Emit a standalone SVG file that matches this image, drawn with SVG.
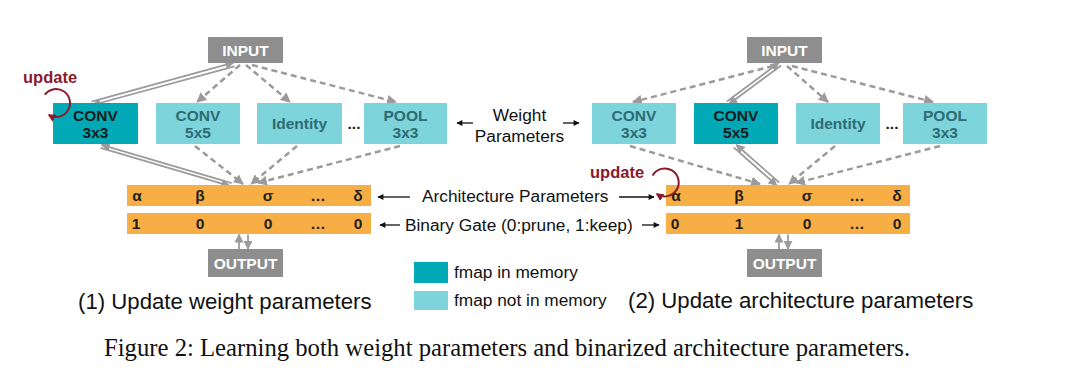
<svg xmlns="http://www.w3.org/2000/svg" width="1080" height="386" viewBox="0 0 1080 386">
<defs>
<style>
.gbox{fill:#8E8E8E}
.dark{fill:#00A9B5}
.light{fill:#7DD4DA}
.bar{fill:#F7AE44}
.t{font-family:"Liberation Sans",Arial,sans-serif}
.wb{font-weight:bold;font-size:15.5px;fill:#FFFFFF;text-anchor:middle}
.db{font-weight:bold;font-size:15.5px;fill:#1A1A1A;text-anchor:middle}
.lb{font-weight:bold;font-size:15.5px;fill:#2E6B74;text-anchor:middle}
.bt{font-weight:bold;font-size:15.5px;fill:#1E1E1E;text-anchor:middle}
.lab{font-size:17.3px;fill:#111}
.cap{font-size:22.2px;fill:#111}
.upd{font-weight:bold;font-size:16.5px;fill:#8B1A2C}
.dash{stroke:#9B9B9B;stroke-width:2.5;fill:none;stroke-dasharray:6 4;marker-end:url(#ah)}
.dbl{stroke:#9B9B9B;stroke-width:1.8;fill:none;marker-end:url(#ah2)}
.blk{stroke:#111;stroke-width:1.3;fill:none;marker-end:url(#ahb)}
.loop{stroke:#8B1A2C;stroke-width:2;fill:none;marker-end:url(#ahr)}
</style>
<marker id="ah" viewBox="0 0 10 10" refX="9" refY="5" markerUnits="userSpaceOnUse" markerWidth="10" markerHeight="10" orient="auto"><path d="M0,0 L10,5 L0,10 z" fill="#9B9B9B"/></marker>
<marker id="ah2" viewBox="0 0 10 10" refX="9" refY="5" markerUnits="userSpaceOnUse" markerWidth="9" markerHeight="9" orient="auto"><path d="M0,0 L10,5 L0,10 z" fill="#9B9B9B"/></marker>
<marker id="ahb" viewBox="0 0 10 10" refX="9" refY="5" markerUnits="userSpaceOnUse" markerWidth="7" markerHeight="6" orient="auto"><path d="M0,0 L10,5 L0,10 z" fill="#111"/></marker>
<marker id="ahr" viewBox="0 0 10 10" refX="8" refY="5" markerUnits="userSpaceOnUse" markerWidth="8" markerHeight="8" orient="auto"><path d="M0,0 L10,5 L0,10 z" fill="#8B1A2C"/></marker>
</defs>
<rect width="1080" height="386" fill="#FFFFFF"/>

<g id="connectors">
<!-- left panel -->
<line class="dbl" x1="91.5" y1="101.7" x2="233.5" y2="62.7"/>
<line class="dbl" x1="234.5" y1="66.3" x2="92.5" y2="105"/>
<line class="dash" x1="240" y1="65" x2="197" y2="102"/>
<line class="dash" x1="246" y1="65" x2="290" y2="102"/>
<line class="dash" x1="252" y1="65" x2="396" y2="102"/>
<line class="dbl" x1="231.6" y1="183.2" x2="101.6" y2="144.8"/>
<line class="dbl" x1="100.5" y1="147.8" x2="229.5" y2="185.8"/>
<line class="dash" x1="195" y1="146" x2="243" y2="184"/>
<line class="dash" x1="297" y1="146" x2="251" y2="184"/>
<line class="dash" x1="400" y1="146" x2="258" y2="183"/>
<line class="dbl" x1="239" y1="249" x2="239" y2="234.5"/>
<line class="dbl" x1="248" y1="234.5" x2="248" y2="249"/>
<!-- right panel -->
<line class="dbl" x1="726.9" y1="101.5" x2="778.9" y2="62.8"/>
<line class="dbl" x1="781.1" y1="65.5" x2="729.1" y2="104"/>
<line class="dash" x1="773" y1="66" x2="633" y2="102"/>
<line class="dash" x1="787" y1="66" x2="828" y2="102"/>
<line class="dash" x1="792" y1="66" x2="933" y2="102"/>
<line class="dbl" x1="779.3" y1="182.6" x2="736.3" y2="144.8"/>
<line class="dbl" x1="733.7" y1="147.4" x2="776.7" y2="185.4"/>
<line class="dash" x1="630" y1="146" x2="760" y2="184"/>
<line class="dash" x1="835" y1="146" x2="789" y2="184"/>
<line class="dash" x1="940" y1="146" x2="796" y2="183"/>
<line class="dbl" x1="779" y1="249" x2="779" y2="234.5"/>
<line class="dbl" x1="788" y1="234.5" x2="788" y2="249"/>
<!-- middle label arrows -->
<line class="blk" x1="473" y1="123" x2="457" y2="123"/>
<line class="blk" x1="563" y1="123" x2="579" y2="123"/>
<line class="blk" x1="410" y1="197" x2="378" y2="197"/>
<line class="blk" x1="619" y1="197" x2="654" y2="197"/>
<line class="blk" x1="400" y1="225" x2="380" y2="225"/>
<line class="blk" x1="642" y1="225" x2="659" y2="225"/>
</g>

<g id="left-input"><rect class="gbox" x="208" y="37" width="75" height="26"/><text class="t wb" x="245.5" y="55.5">INPUT</text></g>
<g id="left-conv3x3"><rect class="dark" x="53" y="103" width="85" height="41"/><text class="t db" x="95.5" y="121">CONV</text><text class="t db" x="95.5" y="138">3x3</text></g>
<g id="left-conv5x5"><rect class="light" x="156" y="103" width="84" height="41"/><text class="t lb" x="198" y="121">CONV</text><text class="t lb" x="198" y="138">5x5</text></g>
<g id="left-identity"><rect class="light" x="257" y="103" width="85" height="41"/><text class="t lb" x="299.5" y="129">Identity</text></g>
<g id="left-dots"><text class="t db" x="354" y="129">...</text></g>
<g id="left-pool"><rect class="light" x="364" y="103" width="83" height="41"/><text class="t lb" x="405.5" y="121">POOL</text><text class="t lb" x="405.5" y="138">3x3</text></g>
<g id="left-arch"><rect class="bar" x="127" y="185" width="244" height="21"/>
<text class="t bt" x="137" y="201">α</text><text class="t bt" x="200" y="201">β</text><text class="t bt" x="268" y="201">σ</text><text class="t bt" x="318" y="201">…</text><text class="t bt" x="358" y="201">δ</text></g>
<g id="left-gate"><rect class="bar" x="127" y="213" width="244" height="21"/>
<text class="t bt" x="136" y="229">1</text><text class="t bt" x="200" y="229">0</text><text class="t bt" x="268" y="229">0</text><text class="t bt" x="318" y="229">…</text><text class="t bt" x="358" y="229">0</text></g>
<g id="left-output"><rect class="gbox" x="208" y="249" width="75" height="28"/><text class="t wb" x="245.5" y="268.5">OUTPUT</text></g>
<g id="left-update"><text class="t upd" x="23" y="83">update</text><path class="loop" d="M 44.8 94.6 A 14 14 0 1 1 49 115.1"/></g>

<g id="right-input"><rect class="gbox" x="747" y="37" width="75" height="26"/><text class="t wb" x="784.5" y="55.5">INPUT</text></g>
<g id="right-conv3x3"><rect class="light" x="592" y="103" width="84" height="41"/><text class="t lb" x="634" y="121">CONV</text><text class="t lb" x="634" y="138">3x3</text></g>
<g id="right-conv5x5"><rect class="dark" x="694" y="103" width="84" height="41"/><text class="t db" x="736" y="121">CONV</text><text class="t db" x="736" y="138">5x5</text></g>
<g id="right-identity"><rect class="light" x="796" y="103" width="84" height="41"/><text class="t lb" x="838" y="129">Identity</text></g>
<g id="right-dots"><text class="t db" x="892" y="129">...</text></g>
<g id="right-pool"><rect class="light" x="903" y="103" width="84" height="41"/><text class="t lb" x="945" y="121">POOL</text><text class="t lb" x="945" y="138">3x3</text></g>
<g id="right-arch"><rect class="bar" x="666" y="185" width="244" height="21"/>
<text class="t bt" x="676" y="201">α</text><text class="t bt" x="739" y="201">β</text><text class="t bt" x="807" y="201">σ</text><text class="t bt" x="857" y="201">…</text><text class="t bt" x="897" y="201">δ</text></g>
<g id="right-gate"><rect class="bar" x="666" y="213" width="244" height="21"/>
<text class="t bt" x="675" y="229">0</text><text class="t bt" x="739" y="229">1</text><text class="t bt" x="807" y="229">0</text><text class="t bt" x="857" y="229">…</text><text class="t bt" x="897" y="229">0</text></g>
<g id="right-output"><rect class="gbox" x="747" y="249" width="75" height="28"/><text class="t wb" x="784.5" y="268.5">OUTPUT</text></g>
<g id="right-update"><text class="t upd" x="590" y="178">update</text><path class="loop" d="M 652.6 175.4 A 14 14 0 1 1 657 194.1"/></g>

<g id="labels">
<text class="t lab" x="519.5" y="121" text-anchor="middle">Weight</text>
<text class="t lab" x="519.5" y="142" text-anchor="middle">Parameters</text>
<text class="t lab" x="422" y="202">Architecture Parameters</text>
<text class="t lab" x="405" y="231">Binary Gate (0:prune, 1:keep)</text>
</g>

<g id="legend">
<rect class="dark" x="414" y="262" width="34" height="21"/>
<rect class="light" x="414" y="291" width="34" height="19"/>
<text class="t lab" x="454" y="278">fmap in memory</text>
<text class="t lab" x="454" y="306">fmap not in memory</text>
</g>

<g id="captions">
<text class="t cap" x="78" y="309">(1) Update weight parameters</text>
<text class="t cap" x="628" y="308">(2) Update architecture parameters</text>
<text x="104" y="356" font-family="'Liberation Serif','Times New Roman',serif" font-size="24.7" fill="#111">Figure 2: Learning both weight parameters and binarized architecture parameters.</text>
</g>
</svg>
